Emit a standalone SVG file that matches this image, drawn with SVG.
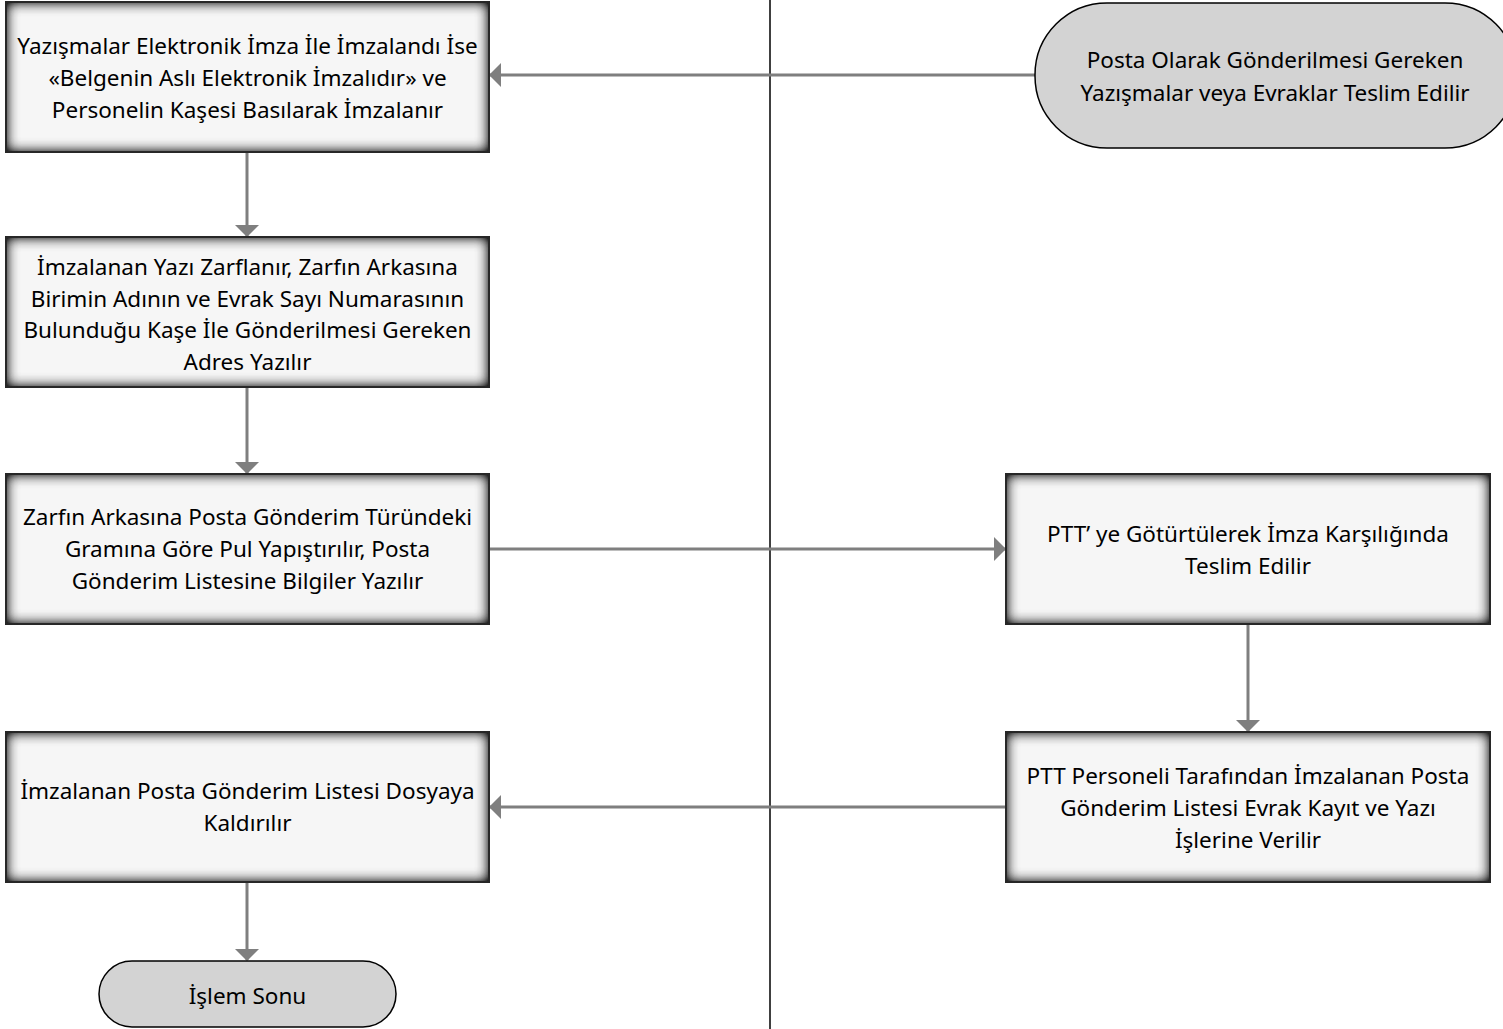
<svg xmlns="http://www.w3.org/2000/svg" width="1503" height="1029" viewBox="0 0 1503 1029">
<defs>
<style>
.box{fill:#f6f6f6;stroke:#2e2e2e;stroke-width:2;filter:url(#inset)}
.term{fill:#d3d3d3;stroke:#000;stroke-width:1.5}
.t{font-family:"Noto Sans","Liberation Sans",Arial,sans-serif;font-size:22.5px;fill:#000;text-anchor:middle}
.c{stroke:#7f7f7f;stroke-width:3;fill:none;marker-end:url(#arr)}
.div{stroke:#000;stroke-width:1.5}
</style>
<filter id="inset" x="-10%" y="-20%" width="120%" height="140%" color-interpolation-filters="sRGB">
<feFlood flood-color="#262626" result="f"/>
<feComposite in="f" in2="SourceAlpha" operator="out" result="inv"/>
<feGaussianBlur in="inv" stdDeviation="7" result="b"/>
<feComponentTransfer in="b" result="b2"><feFuncA type="linear" slope="1.7" intercept="0"/></feComponentTransfer>
<feComposite in="b2" in2="SourceAlpha" operator="in" result="sh"/>
<feMerge><feMergeNode in="SourceGraphic"/><feMergeNode in="sh"/></feMerge>
</filter>
<marker id="arr" viewBox="0 0 12 24" refX="11" refY="12" markerWidth="12" markerHeight="24" markerUnits="userSpaceOnUse" orient="auto">
<path d="M0,0 L12,12 L0,24 z" fill="#7f7f7f"/>
</marker>
</defs>
<line class="div" x1="770" y1="0" x2="770" y2="1029"/>
<g id="connectors">
<line class="c" x1="1035" y1="75" x2="490" y2="75"/>
<line class="c" x1="247" y1="153" x2="247" y2="236"/>
<line class="c" x1="247" y1="388" x2="247" y2="473"/>
<line class="c" x1="490" y1="549" x2="1005" y2="549"/>
<line class="c" x1="1248" y1="625" x2="1248" y2="731"/>
<line class="c" x1="1006" y1="807" x2="490" y2="807"/>
<line class="c" x1="247" y1="883" x2="247" y2="960"/>
</g>
<g id="n1">
<rect class="box" x="6" y="2" width="483" height="150"/>
<text class="t" x="247.5" y="54">Yazışmalar Elektronik İmza İle İmzalandı İse</text>
<text class="t" x="247.5" y="86">«Belgenin Aslı Elektronik İmzalıdır» ve</text>
<text class="t" x="247.5" y="118">Personelin Kaşesi Basılarak İmzalanır</text>
</g>
<g id="n2">
<rect class="box" x="6" y="237" width="483" height="150"/>
<text class="t" x="247.5" y="275">İmzalanan Yazı Zarflanır, Zarfın Arkasına</text>
<text class="t" x="247.5" y="307">Birimin Adının ve Evrak Sayı Numarasının</text>
<text class="t" x="247.5" y="338">Bulunduğu Kaşe İle Gönderilmesi Gereken</text>
<text class="t" x="247.5" y="370">Adres Yazılır</text>
</g>
<g id="n3">
<rect class="box" x="6" y="474" width="483" height="150"/>
<text class="t" x="247.5" y="525">Zarfın Arkasına Posta Gönderim Türündeki</text>
<text class="t" x="247.5" y="557">Gramına Göre Pul Yapıştırılır, Posta</text>
<text class="t" x="247.5" y="589">Gönderim Listesine Bilgiler Yazılır</text>
</g>
<g id="n4">
<rect class="box" x="6" y="732" width="483" height="150"/>
<text class="t" x="247.5" y="799">İmzalanan Posta Gönderim Listesi Dosyaya</text>
<text class="t" x="247.5" y="831">Kaldırılır</text>
</g>
<g id="nStart">
<rect class="term" x="1035" y="3" width="482" height="145" rx="72" ry="72"/>
<text class="t" x="1275" y="68">Posta Olarak Gönderilmesi Gereken</text>
<text class="t" x="1275" y="101">Yazışmalar veya Evraklar Teslim Edilir</text>
</g>
<g id="n5">
<rect class="box" x="1006" y="474" width="484" height="150"/>
<text class="t" x="1248" y="542">PTT’ ye Götürtülerek İmza Karşılığında</text>
<text class="t" x="1248" y="574">Teslim Edilir</text>
</g>
<g id="n6">
<rect class="box" x="1006" y="732" width="484" height="150"/>
<text class="t" x="1248" y="784">PTT Personeli Tarafından İmzalanan Posta</text>
<text class="t" x="1248" y="816">Gönderim Listesi Evrak Kayıt ve Yazı</text>
<text class="t" x="1248" y="848">İşlerine Verilir</text>
</g>
<g id="nEnd">
<rect class="term" x="99" y="961" width="297" height="66" rx="33" ry="33"/>
<text class="t" x="247.5" y="1004">İşlem Sonu</text>
</g>
</svg>
